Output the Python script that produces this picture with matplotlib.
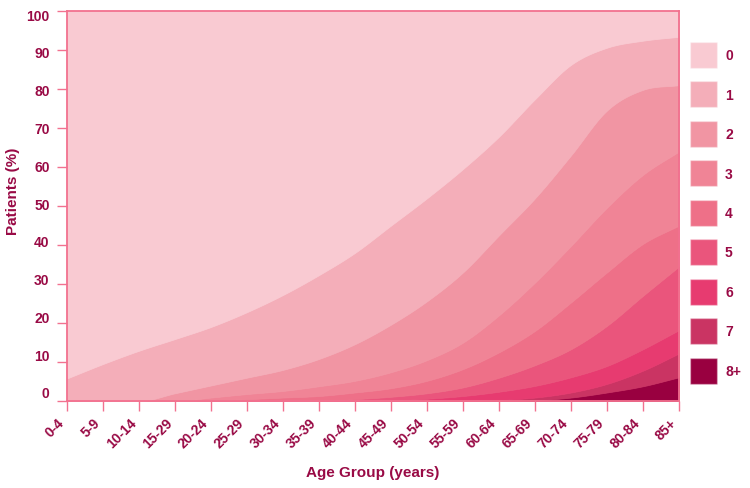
import numpy as np
import matplotlib
matplotlib.use('Agg')
import matplotlib.pyplot as plt
from matplotlib.patches import Patch
from matplotlib.transforms import ScaledTranslation

# age groups on the x axis (label text as in the source chart)
age_groups = ['0-4', '5-9', '10-14', '15-29', '20-24', '25-29', '30-34', '35-39', '40-44',
              '45-49', '50-54', '55-59', '60-64', '65-69', '70-74', '75-79', '80-84', '85+']

# number of conditions (legend)
counts = ['0', '1', '2', '3', '4', '5', '6', '7', '8+']

# % of patients in each age group, per number of conditions
pct_0 = [94.2, 90.5, 87.1, 84.1, 81.0, 77.2, 72.8, 67.7, 62.0, 55.0, 48.0, 40.5, 32.2, 22.6, 13.8, 9.4, 7.6, 6.6]
pct_1 = [5.8, 9.5, 12.9, 13.9, 15.0, 16.8, 19.2, 21.5, 23.4, 25.4, 26.4, 26.5, 25.3, 25.4, 23.2, 16.1, 12.6, 12.4]
pct_2 = [0, 0, 0, 2.0, 3.1, 4.2, 5.4, 7.0, 9.4, 12.2, 15.1, 18.0, 20.5, 21.6, 23.2, 24.9, 21.8, 17.0]
pct_3 = [0, 0, 0, 0, 0.7, 1.3, 1.7, 2.5, 3.0, 4.1, 5.3, 6.8, 9.5, 12.4, 14.5, 16.6, 17.7, 19.0]
pct_4 = [0, 0, 0, 0, 0.2, 0.5, 0.9, 1.2, 1.7, 2.2, 3.2, 4.7, 6.5, 8.8, 12.0, 13.7, 13.3, 10.5]
pct_5 = [0, 0, 0, 0, 0, 0, 0, 0.1, 0.5, 0.9, 1.4, 2.2, 3.6, 5.3, 7.2, 10.3, 13.7, 16.3]
pct_6 = [0, 0, 0, 0, 0, 0, 0, 0, 0, 0.2, 0.6, 1.2, 2.1, 3.0, 3.9, 4.6, 5.5, 6.0]
pct_7 = [0, 0, 0, 0, 0, 0, 0, 0, 0, 0, 0, 0.1, 0.3, 0.7, 1.3, 2.2, 4.0, 6.1]
pct_8 = [0, 0, 0, 0, 0, 0, 0, 0, 0, 0, 0, 0, 0, 0.2, 0.9, 2.2, 3.8, 6.1]

series = [pct_0, pct_1, pct_2, pct_3, pct_4, pct_5, pct_6, pct_7, pct_8]

colors = ['#F9CAD2', '#F4AEB9', '#F195A3', '#F08496', '#EE7088',
          '#EA557C', '#E73B70', '#CA3463', '#990040']

text_color = '#990A45'
axis_color = '#F2718F'


def spline(x, y, xs):
    # cardinal-style smoothing with limited slopes so areas don't overshoot
    x = np.asarray(x, float)
    y = np.asarray(y, float)
    h = np.diff(x)
    d = np.diff(y) / h
    m = np.zeros_like(y)
    m[0], m[-1] = d[0], d[-1]
    for i in range(1, len(y) - 1):
        if d[i - 1] * d[i] > 0:
            m[i] = (d[i - 1] + d[i]) / 2
            lim = 3 * min(abs(d[i - 1]), abs(d[i]))
            m[i] = np.sign(m[i]) * min(abs(m[i]), lim)
    k = np.clip(np.searchsorted(x, xs) - 1, 0, len(x) - 2)
    t = (xs - x[k]) / h[k]
    h00 = 2 * t**3 - 3 * t**2 + 1
    h10 = t**3 - 2 * t**2 + t
    h01 = -2 * t**3 + 3 * t**2
    h11 = t**3 - t**2
    return h00 * y[k] + h10 * h[k] * m[k] + h01 * y[k + 1] + h11 * h[k] * m[k + 1]


x = np.arange(len(age_groups))
xs = np.linspace(0, len(age_groups) - 1, 700)

# stack from the bottom (8+) up to the top (0)
tops = np.cumsum(np.array(series[::-1], float), axis=0)
smooth = np.array([np.clip(spline(x, t, xs), 0, 100) for t in tops])
smooth = np.maximum.accumulate(smooth, axis=0)
smooth[-1] = 100

plt.rcParams['font.family'] = ['Liberation Sans', 'DejaVu Sans']
plt.rcParams['font.weight'] = 'bold'

fig = plt.figure(figsize=(7.5, 4.89), dpi=100)
ax = fig.add_axes([67 / 750, 1 - 402 / 489, 612 / 750, 390 / 489])

lower = np.zeros_like(xs)
for i, upper in enumerate(smooth):
    c = colors[::-1][i]
    ax.fill_between(xs, lower, upper, color=c, lw=0.6, ec=c)
    lower = upper

ax.set_xlim(0, len(age_groups) - 1)
ax.set_ylim(0, 100)
ax.set_xticks(x)
ax.set_xticklabels(age_groups, rotation=45, ha='right', va='bottom', rotation_mode='anchor')
ax.set_yticks(np.arange(0, 101, 10))

for s in ax.spines.values():
    s.set_color(axis_color)
    s.set_linewidth(1.3)

ax.tick_params(axis='both', direction='out', length=7.5, width=1, color=axis_color,
               labelcolor=text_color, labelsize=10)
ax.tick_params(axis='x', pad=10)
ax.tick_params(axis='y', pad=5)

# y labels sit a little above their ticks in the original
for lab, v in zip(ax.get_yticklabels(), np.arange(0, 101, 10)):
    dy = (9 - 12 * v / 100) / 100
    lab.set_transform(lab.get_transform() + ScaledTranslation(0, dy, fig.dpi_scale_trans))

ax.set_ylabel('Patients (%)', color=text_color, fontsize=11, fontweight='bold')
ax.yaxis.set_label_coords(-0.077, 0.54)
ax.set_xlabel('Age Group (years)', color=text_color, fontsize=11, fontweight='bold')
ax.xaxis.set_label_coords(0.5, -0.165)

handles = [Patch(facecolor=c, edgecolor='#ffffff55', lw=1) for c in colors]
fig.legend(handles, counts, loc='upper left', bbox_to_anchor=(690 / 750, 1 - 43 / 489),
           frameon=False, borderpad=0, borderaxespad=0, handlelength=1.94, handleheight=2.5,
           labelspacing=0.97, handletextpad=0.58,
           prop={'weight': 'bold', 'size': 10}, labelcolor=text_color)

fig.savefig('out.png', dpi=100)
